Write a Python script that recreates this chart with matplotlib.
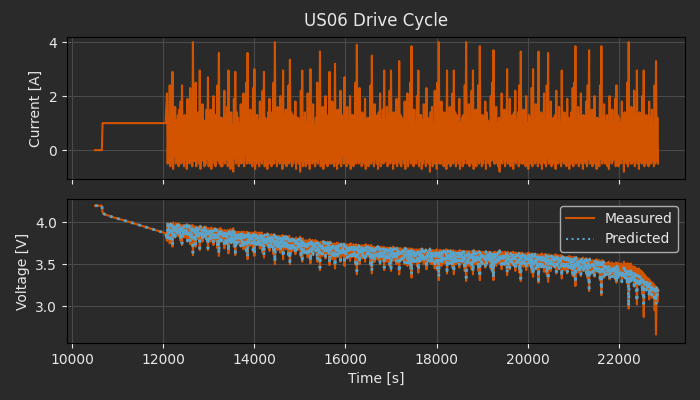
import numpy as np
import matplotlib
matplotlib.use('Agg')
import matplotlib.pyplot as plt

# -- Colours / style --
BG = '#2a2a2a'
FG = '#e8e8e8'
GRID = '#4a4a4a'
C_MEAS = '#d35400'
C_PRED = '#5ba3c8'

# -- Data: constant-current pre-phase --
time_pre = [10500, 10650, 10665, 10700, 10850, 11350, 11700, 12000, 12050]
current_pre = [0.0, 0.0, 1.0, 1.0, 1.0, 1.0, 1.0, 1.0, 1.0]
voltage_pre = [4.20, 4.20, 4.12, 4.10, 4.07, 3.99, 3.93, 3.88, 3.87]

# -- Data: US06 drive cycles, sampled every 15 s from 12080 s (one row per 600 s cycle) --
t_start, t_step = 12080, 15
current_cycles = [
    [2.1, -0.5, 1.2, -0.3, 2.4, -0.6, 1.0, -0.4, 2.9, -0.7, 1.4, -0.2, 1.6, -0.5, 1.1, -0.4, 1.3, -0.6, 1.5, -0.3,
     1.8, -0.5, 2.4, -0.4, 1.2, -0.6, 1.3, -0.3, 1.0, -0.7, 1.9, -0.4, 1.4, -0.5, 2.3, -0.2, 1.1, -0.6, 4.0, -0.4],
    [1.3, -0.4, 2.5, -0.6, 1.0, -0.3, 1.4, -0.5, 2.95, -0.7, 1.2, -0.4, 1.7, -0.2, 0.9, -0.6, 1.1, -0.5, 1.5, -0.3,
     2.7, -0.6, 1.2, -0.4, 1.5, -0.7, 1.0, -0.3, 2.0, -0.5, 1.3, -0.6, 1.3, -0.4, 2.4, -0.2, 3.6, -0.5, 1.2, -0.6],
    [1.2, -0.6, 1.0, -0.4, 2.2, -0.5, 1.3, -0.3, 1.6, -0.6, 2.95, -0.4, 1.1, -0.7, 1.4, -0.5, 0.9, -0.8, 1.9, -0.3,
     2.9, -0.5, 1.4, -0.4, 1.2, -0.6, 1.0, -0.3, 1.7, -0.5, 1.2, -0.4, 2.1, -0.6, 1.3, -0.2, 2.5, -0.5, 3.6, -0.4],
    [1.2, -0.5, 1.5, -0.3, 1.0, -0.6, 2.3, -0.4, 3.0, -0.7, 1.3, -0.5, 1.3, -0.2, 1.1, -0.6, 1.8, -0.4, 0.9, -0.5,
     2.2, -0.3, 2.9, -0.6, 1.2, -0.4, 1.1, -0.7, 1.4, -0.5, 1.9, -0.3, 1.0, -0.6, 1.4, -0.4, 2.5, -0.5, 4.0, -0.3],
    [1.1, -0.6, 1.6, -0.4, 1.3, -0.5, 2.0, -0.3, 1.0, -0.7, 2.95, -0.5, 1.2, -0.4, 1.5, -0.6, 0.9, -0.3, 2.4, -0.5,
     3.35, -0.4, 1.4, -0.6, 1.3, -0.5, 1.0, -0.3, 1.8, -0.7, 1.2, -0.4, 1.2, -0.5, 1.1, -0.8, 2.2, -0.4, 2.95, -0.6],
    [1.2, -0.4, 1.4, -0.6, 1.0, -0.3, 2.1, -0.5, 1.3, -0.7, 3.0, -0.4, 1.1, -0.5, 1.7, -0.2, 0.9, -0.6, 1.2, -0.4,
     2.5, -0.5, 1.3, -0.3, 3.65, -0.6, 1.0, -0.4, 1.6, -0.7, 1.2, -0.5, 2.0, -0.3, 1.1, -0.6, 1.3, -0.4, 2.9, -0.5],
    [1.0, -0.5, 1.8, -0.3, 1.2, -0.6, 3.2, -0.4, 1.4, -0.7, 1.5, -0.5, 0.9, -0.4, 2.2, -0.6, 1.3, -0.2, 1.1, -0.5,
     2.7, -0.4, 1.1, -0.6, 1.6, -0.3, 1.0, -0.5, 2.0, -0.7, 1.3, -0.4, 1.3, -0.6, 1.2, -0.3, 2.5, -0.5, 3.9, -0.4],
    [1.2, -0.5, 2.3, -0.4, 1.0, -0.6, 1.4, -0.3, 1.3, -0.5, 1.9, -0.7, 1.1, -0.4, 1.2, -0.6, 0.9, -0.3, 2.4, -0.5,
     3.5, -0.4, 1.2, -0.6, 1.7, -0.3, 1.0, -0.5, 1.3, -0.7, 1.4, -0.4, 2.1, -0.6, 1.1, -0.2, 1.5, -0.5, 2.95, -0.4],
    [1.1, -0.4, 1.6, -0.6, 1.3, -0.3, 2.2, -0.5, 2.95, -0.4, 1.0, -0.7, 1.4, -0.5, 1.2, -0.3, 1.9, -0.6, 0.9, -0.4,
     3.3, -0.5, 1.3, -0.6, 1.2, -0.3, 1.1, -0.5, 1.8, -0.7, 1.0, -0.4, 2.1, -0.6, 1.4, -0.3, 2.5, -0.5, 3.85, -0.4],
    [1.2, -0.6, 1.5, -0.4, 1.0, -0.5, 2.0, -0.3, 2.95, -0.6, 1.3, -0.4, 1.3, -0.7, 1.1, -0.5, 1.7, -0.3, 0.9, -0.6,
     2.3, -0.4, 1.2, -0.5, 1.1, -0.8, 1.4, -0.3, 1.6, -0.6, 1.0, -0.4, 2.2, -0.5, 1.2, -0.7, 2.5, -0.4, 4.0, -0.5],
    [1.1, -0.5, 1.8, -0.3, 1.3, -0.6, 1.4, -0.4, 1.0, -0.7, 2.95, -0.5, 1.2, -0.4, 1.6, -0.6, 0.9, -0.3, 2.1, -0.5,
     2.95, -0.4, 1.4, -0.6, 1.3, -0.3, 1.1, -0.5, 1.9, -0.7, 1.0, -0.4, 1.2, -0.6, 1.3, -0.5, 2.4, -0.3, 4.0, -0.5],
    [1.2, -0.4, 1.7, -0.6, 1.0, -0.3, 2.2, -0.5, 2.95, -0.7, 1.3, -0.4, 1.5, -0.6, 1.1, -0.3, 2.4, -0.5, 3.85, -0.4,
     1.2, -0.6, 1.3, -0.5, 0.9, -0.3, 1.8, -0.7, 1.4, -0.4, 1.1, -0.5, 1.0, -0.6, 2.0, -0.4, 2.5, -0.3, 3.7, -0.5],
    [1.3, -0.5, 1.6, -0.3, 1.0, -0.6, 1.2, -0.8, 1.1, -0.4, 2.1, -0.5, 0.9, -0.3, 1.5, -0.6, 1.2, -0.4, 3.0, -0.5,
     1.3, -0.3, 1.9, -0.6, 1.0, -0.5, 1.3, -0.7, 1.4, -0.4, 2.2, -0.5, 1.1, -0.3, 1.4, -0.6, 2.4, -0.4, 3.65, -0.5],
    [1.1, -0.5, 1.5, -0.3, 1.3, -0.6, 2.0, -0.4, 1.0, -0.7, 1.3, -0.5, 1.2, -0.4, 2.3, -0.6, 3.0, -0.3, 0.9, -0.5,
     1.7, -0.4, 1.2, -0.6, 3.65, -0.3, 1.1, -0.5, 1.4, -0.7, 1.3, -0.4, 2.1, -0.5, 1.0, -0.6, 2.4, -0.3, 3.6, -0.5],
    [1.2, -0.4, 1.8, -0.6, 1.0, -0.3, 1.2, -0.5, 1.3, -0.7, 2.2, -0.4, 1.1, -0.5, 1.6, -0.3, 0.9, -0.6, 2.95, -0.4,
     1.3, -0.5, 1.4, -0.3, 1.0, -0.6, 1.9, -0.4, 1.2, -0.7, 1.1, -0.5, 1.4, -0.3, 2.3, -0.6, 2.5, -0.4, 3.85, -0.5],
    [1.0, -0.4, 1.6, -0.6, 1.3, -0.3, 2.1, -0.5, 1.1, -0.7, 1.3, -0.4, 1.2, -0.5, 1.8, -0.6, 2.4, -0.3, 3.7, -0.5,
     1.0, -0.4, 1.5, -0.6, 1.3, -0.3, 2.0, -0.5, 0.9, -0.7, 1.2, -0.4, 1.1, -0.6, 2.4, -0.3, 3.85, -0.5, 1.2, -0.4],
    [1.7, -0.5, 1.1, -0.4, 1.3, -0.6, 1.0, -0.7, 2.0, -0.3, 1.2, -0.5, 1.5, -0.4, 0.9, -0.3, 1.9, -0.6, 2.4, -0.5,
     1.3, -0.6, 1.2, -0.4, 1.0, -0.5, 1.8, -0.3, 1.1, -0.8, 1.4, -0.4, 1.2, -0.5, 2.5, -0.6, 4.0, -0.4, 1.3, -0.5],
    [1.6, -0.5, 1.1, -0.4, 2.2, -0.6, 1.3, -0.3, 2.95, -0.5, 1.0, -0.7, 1.4, -0.4, 1.2, -0.5, 2.0, -0.3, 2.95, -0.6,
     1.1, -0.4, 1.3, -0.5, 1.0, -0.6, 1.8, -0.3, 1.2, -0.5, 1.5, -0.4, 0.9, -0.6, 2.4, -0.5, 3.3, -0.4, 1.2, -0.5],
]
voltage_meas_cycles = [
    [3.78, 3.99, 3.85, 3.97, 3.75, 3.99, 3.87, 3.98, 3.71, 4.00, 3.83, 3.96, 3.82, 3.99, 3.86, 3.98, 3.84, 3.99, 3.83, 3.97,
     3.78, 3.97, 3.73, 3.96, 3.83, 3.97, 3.82, 3.95, 3.85, 3.98, 3.77, 3.96, 3.81, 3.97, 3.74, 3.94, 3.84, 3.97, 3.61, 3.96],
    [3.80, 3.94, 3.71, 3.95, 3.83, 3.93, 3.79, 3.95, 3.67, 3.96, 3.81, 3.94, 3.77, 3.92, 3.83, 3.95, 3.82, 3.95, 3.79, 3.93,
     3.67, 3.93, 3.79, 3.92, 3.77, 3.94, 3.81, 3.91, 3.73, 3.93, 3.78, 3.93, 3.78, 3.92, 3.69, 3.90, 3.60, 3.93, 3.79, 3.93],
    [3.77, 3.91, 3.79, 3.90, 3.69, 3.91, 3.76, 3.89, 3.74, 3.91, 3.63, 3.90, 3.78, 3.92, 3.75, 3.91, 3.79, 3.93, 3.71, 3.89,
     3.61, 3.89, 3.73, 3.88, 3.75, 3.89, 3.77, 3.87, 3.71, 3.89, 3.75, 3.88, 3.68, 3.89, 3.74, 3.86, 3.65, 3.89, 3.56, 3.88],
    [3.74, 3.88, 3.72, 3.86, 3.76, 3.88, 3.65, 3.87, 3.60, 3.89, 3.73, 3.88, 3.73, 3.85, 3.75, 3.88, 3.69, 3.87, 3.76, 3.88,
     3.64, 3.84, 3.58, 3.86, 3.72, 3.85, 3.73, 3.87, 3.70, 3.86, 3.66, 3.84, 3.74, 3.86, 3.70, 3.85, 3.62, 3.86, 3.50, 3.84],
    [3.71, 3.84, 3.67, 3.83, 3.69, 3.84, 3.64, 3.82, 3.72, 3.85, 3.56, 3.84, 3.70, 3.83, 3.68, 3.84, 3.72, 3.82, 3.60, 3.84,
     3.50, 3.80, 3.65, 3.81, 3.66, 3.81, 3.69, 3.79, 3.62, 3.82, 3.67, 3.80, 3.67, 3.81, 3.68, 3.83, 3.59, 3.80, 3.53, 3.81],
    [3.65, 3.78, 3.63, 3.79, 3.67, 3.77, 3.58, 3.79, 3.64, 3.80, 3.51, 3.78, 3.66, 3.79, 3.61, 3.76, 3.67, 3.79, 3.65, 3.78,
     3.53, 3.77, 3.62, 3.75, 3.43, 3.77, 3.65, 3.76, 3.60, 3.78, 3.63, 3.77, 3.57, 3.75, 3.64, 3.77, 3.62, 3.76, 3.49, 3.77],
    [3.63, 3.75, 3.56, 3.73, 3.61, 3.75, 3.45, 3.74, 3.59, 3.76, 3.59, 3.75, 3.63, 3.74, 3.53, 3.75, 3.60, 3.72, 3.62, 3.75,
     3.48, 3.73, 3.61, 3.74, 3.57, 3.72, 3.62, 3.74, 3.54, 3.75, 3.59, 3.73, 3.59, 3.74, 3.60, 3.72, 3.50, 3.74, 3.38, 3.73],
    [3.59, 3.73, 3.50, 3.72, 3.61, 3.73, 3.57, 3.71, 3.58, 3.73, 3.53, 3.74, 3.60, 3.72, 3.59, 3.73, 3.61, 3.71, 3.49, 3.73,
     3.39, 3.70, 3.57, 3.71, 3.53, 3.69, 3.59, 3.71, 3.56, 3.72, 3.55, 3.70, 3.50, 3.71, 3.58, 3.68, 3.55, 3.71, 3.43, 3.70],
    [3.57, 3.69, 3.53, 3.70, 3.55, 3.68, 3.48, 3.70, 3.42, 3.69, 3.58, 3.71, 3.54, 3.70, 3.56, 3.68, 3.50, 3.70, 3.58, 3.69,
     3.38, 3.69, 3.54, 3.69, 3.55, 3.67, 3.56, 3.69, 3.50, 3.70, 3.57, 3.68, 3.48, 3.69, 3.53, 3.67, 3.45, 3.69, 3.34, 3.68],
    [3.54, 3.68, 3.52, 3.67, 3.56, 3.68, 3.48, 3.66, 3.40, 3.68, 3.53, 3.67, 3.53, 3.69, 3.55, 3.68, 3.50, 3.66, 3.56, 3.68,
     3.44, 3.66, 3.53, 3.67, 3.54, 3.69, 3.51, 3.65, 3.50, 3.67, 3.55, 3.66, 3.45, 3.67, 3.53, 3.68, 3.43, 3.66, 3.31, 3.67],
    [3.54, 3.67, 3.48, 3.65, 3.52, 3.67, 3.51, 3.66, 3.55, 3.68, 3.39, 3.67, 3.53, 3.66, 3.50, 3.67, 3.55, 3.65, 3.46, 3.67,
     3.38, 3.65, 3.50, 3.66, 3.51, 3.64, 3.53, 3.66, 3.46, 3.67, 3.54, 3.65, 3.52, 3.66, 3.51, 3.66, 3.42, 3.64, 3.30, 3.66],
    [3.52, 3.65, 3.48, 3.66, 3.54, 3.64, 3.44, 3.66, 3.38, 3.67, 3.51, 3.65, 3.50, 3.66, 3.53, 3.64, 3.42, 3.66, 3.31, 3.65,
     3.51, 3.65, 3.50, 3.65, 3.53, 3.63, 3.46, 3.66, 3.49, 3.64, 3.52, 3.65, 3.53, 3.65, 3.45, 3.64, 3.41, 3.63, 3.31, 3.65],
    [3.50, 3.65, 3.48, 3.63, 3.53, 3.65, 3.51, 3.67, 3.52, 3.64, 3.44, 3.65, 3.53, 3.63, 3.49, 3.65, 3.51, 3.64, 3.37, 3.65,
     3.49, 3.62, 3.44, 3.64, 3.52, 3.64, 3.49, 3.65, 3.48, 3.63, 3.42, 3.64, 3.51, 3.62, 3.48, 3.64, 3.40, 3.63, 3.30, 3.64],
    [3.50, 3.63, 3.47, 3.61, 3.48, 3.63, 3.43, 3.62, 3.51, 3.64, 3.48, 3.63, 3.49, 3.62, 3.40, 3.63, 3.35, 3.61, 3.51, 3.63,
     3.44, 3.61, 3.48, 3.62, 3.28, 3.60, 3.49, 3.62, 3.46, 3.63, 3.47, 3.61, 3.41, 3.62, 3.50, 3.62, 3.38, 3.60, 3.29, 3.62],
    [3.47, 3.60, 3.42, 3.61, 3.49, 3.59, 3.47, 3.61, 3.46, 3.62, 3.39, 3.60, 3.48, 3.61, 3.44, 3.59, 3.49, 3.61, 3.33, 3.60,
     3.44, 3.59, 3.43, 3.57, 3.47, 3.59, 3.39, 3.58, 3.45, 3.60, 3.46, 3.59, 3.43, 3.57, 3.36, 3.59, 3.35, 3.58, 3.24, 3.59],
    [3.45, 3.56, 3.40, 3.57, 3.42, 3.55, 3.36, 3.57, 3.44, 3.58, 3.42, 3.56, 3.43, 3.57, 3.38, 3.57, 3.33, 3.55, 3.18, 3.57,
     3.43, 3.54, 3.39, 3.55, 3.40, 3.53, 3.35, 3.55, 3.43, 3.56, 3.41, 3.54, 3.42, 3.55, 3.31, 3.53, 3.13, 3.55, 3.41, 3.54],
    [3.34, 3.52, 3.39, 3.51, 3.37, 3.52, 3.40, 3.53, 3.32, 3.50, 3.38, 3.52, 3.36, 3.51, 3.40, 3.50, 3.32, 3.52, 3.28, 3.52,
     3.36, 3.51, 3.37, 3.50, 3.39, 3.51, 3.32, 3.49, 3.38, 3.53, 3.35, 3.50, 3.37, 3.51, 3.27, 3.51, 2.97, 3.50, 3.36, 3.51],
    [3.33, 3.48, 3.36, 3.47, 3.24, 3.47, 3.33, 3.45, 3.02, 3.45, 3.33, 3.45, 3.29, 3.43, 3.28, 3.42, 3.14, 3.40, 2.87, 3.38,
     3.24, 3.36, 3.20, 3.34, 3.21, 3.33, 3.08, 3.31, 3.14, 3.29, 3.10, 3.28, 3.14, 3.26, 2.95, 3.24, 2.66, 3.22, 3.05, 3.20],
]
voltage_pred_cycles = [
    [3.79, 3.98, 3.86, 3.96, 3.77, 3.98, 3.88, 3.97, 3.73, 3.98, 3.84, 3.95, 3.83, 3.98, 3.87, 3.97, 3.85, 3.98, 3.84, 3.96,
     3.79, 3.96, 3.75, 3.95, 3.84, 3.96, 3.83, 3.94, 3.86, 3.97, 3.78, 3.95, 3.82, 3.96, 3.76, 3.93, 3.85, 3.96, 3.64, 3.95],
    [3.81, 3.93, 3.73, 3.94, 3.84, 3.92, 3.80, 3.94, 3.69, 3.95, 3.82, 3.93, 3.78, 3.91, 3.84, 3.94, 3.83, 3.94, 3.80, 3.92,
     3.69, 3.92, 3.80, 3.91, 3.78, 3.93, 3.82, 3.90, 3.75, 3.92, 3.79, 3.92, 3.79, 3.91, 3.71, 3.89, 3.63, 3.92, 3.80, 3.92],
    [3.78, 3.90, 3.80, 3.89, 3.71, 3.90, 3.77, 3.88, 3.75, 3.90, 3.66, 3.89, 3.79, 3.91, 3.76, 3.90, 3.80, 3.92, 3.73, 3.88,
     3.64, 3.88, 3.74, 3.87, 3.76, 3.88, 3.78, 3.86, 3.72, 3.88, 3.76, 3.87, 3.70, 3.88, 3.75, 3.85, 3.67, 3.88, 3.59, 3.87],
    [3.75, 3.87, 3.73, 3.85, 3.77, 3.87, 3.67, 3.86, 3.63, 3.88, 3.74, 3.87, 3.74, 3.84, 3.76, 3.87, 3.70, 3.86, 3.77, 3.87,
     3.66, 3.83, 3.61, 3.85, 3.73, 3.84, 3.74, 3.86, 3.71, 3.85, 3.67, 3.83, 3.75, 3.85, 3.71, 3.84, 3.64, 3.85, 3.53, 3.83],
    [3.72, 3.83, 3.68, 3.82, 3.70, 3.83, 3.66, 3.81, 3.73, 3.84, 3.59, 3.83, 3.71, 3.82, 3.69, 3.83, 3.73, 3.81, 3.62, 3.83,
     3.53, 3.79, 3.66, 3.80, 3.67, 3.80, 3.70, 3.78, 3.63, 3.81, 3.68, 3.79, 3.68, 3.80, 3.69, 3.82, 3.61, 3.79, 3.56, 3.80],
    [3.66, 3.77, 3.64, 3.78, 3.68, 3.76, 3.60, 3.78, 3.65, 3.79, 3.54, 3.77, 3.67, 3.78, 3.62, 3.75, 3.68, 3.78, 3.66, 3.77,
     3.55, 3.76, 3.63, 3.74, 3.46, 3.76, 3.66, 3.75, 3.61, 3.77, 3.64, 3.76, 3.59, 3.74, 3.65, 3.76, 3.63, 3.75, 3.52, 3.76],
    [3.64, 3.74, 3.58, 3.72, 3.62, 3.74, 3.48, 3.73, 3.60, 3.75, 3.60, 3.74, 3.64, 3.73, 3.55, 3.74, 3.61, 3.71, 3.63, 3.74,
     3.51, 3.72, 3.62, 3.73, 3.58, 3.71, 3.63, 3.73, 3.56, 3.74, 3.60, 3.72, 3.60, 3.73, 3.61, 3.71, 3.52, 3.73, 3.42, 3.72],
    [3.60, 3.72, 3.52, 3.71, 3.62, 3.72, 3.58, 3.70, 3.59, 3.72, 3.54, 3.73, 3.61, 3.71, 3.60, 3.72, 3.62, 3.70, 3.51, 3.72,
     3.42, 3.69, 3.58, 3.70, 3.54, 3.68, 3.60, 3.70, 3.57, 3.71, 3.56, 3.69, 3.52, 3.70, 3.59, 3.67, 3.56, 3.70, 3.46, 3.69],
    [3.58, 3.68, 3.54, 3.69, 3.56, 3.67, 3.50, 3.69, 3.45, 3.68, 3.59, 3.70, 3.55, 3.69, 3.57, 3.67, 3.52, 3.69, 3.59, 3.68,
     3.41, 3.68, 3.55, 3.68, 3.56, 3.66, 3.57, 3.68, 3.52, 3.69, 3.58, 3.67, 3.50, 3.68, 3.54, 3.66, 3.47, 3.68, 3.38, 3.67],
    [3.55, 3.67, 3.53, 3.66, 3.57, 3.67, 3.50, 3.65, 3.43, 3.67, 3.54, 3.66, 3.54, 3.68, 3.56, 3.67, 3.52, 3.65, 3.57, 3.67,
     3.46, 3.65, 3.54, 3.66, 3.55, 3.68, 3.52, 3.64, 3.51, 3.66, 3.56, 3.65, 3.47, 3.66, 3.54, 3.67, 3.45, 3.65, 3.35, 3.66],
    [3.55, 3.66, 3.50, 3.64, 3.53, 3.66, 3.52, 3.65, 3.56, 3.67, 3.42, 3.66, 3.54, 3.65, 3.51, 3.66, 3.56, 3.64, 3.48, 3.66,
     3.41, 3.64, 3.51, 3.65, 3.52, 3.63, 3.54, 3.65, 3.48, 3.66, 3.55, 3.64, 3.53, 3.65, 3.52, 3.65, 3.44, 3.63, 3.34, 3.65],
    [3.53, 3.64, 3.50, 3.65, 3.55, 3.63, 3.46, 3.65, 3.41, 3.66, 3.52, 3.64, 3.51, 3.65, 3.54, 3.63, 3.44, 3.65, 3.35, 3.64,
     3.52, 3.64, 3.51, 3.64, 3.54, 3.62, 3.48, 3.65, 3.50, 3.63, 3.53, 3.64, 3.54, 3.64, 3.47, 3.63, 3.43, 3.62, 3.34, 3.64],
    [3.51, 3.64, 3.49, 3.62, 3.54, 3.64, 3.52, 3.66, 3.53, 3.63, 3.46, 3.64, 3.54, 3.62, 3.50, 3.64, 3.52, 3.63, 3.40, 3.64,
     3.50, 3.61, 3.46, 3.63, 3.53, 3.63, 3.50, 3.64, 3.49, 3.62, 3.44, 3.63, 3.52, 3.61, 3.49, 3.63, 3.42, 3.62, 3.33, 3.63],
    [3.51, 3.62, 3.48, 3.60, 3.49, 3.62, 3.45, 3.61, 3.52, 3.63, 3.49, 3.62, 3.50, 3.61, 3.42, 3.62, 3.38, 3.60, 3.52, 3.62,
     3.45, 3.60, 3.49, 3.61, 3.31, 3.59, 3.50, 3.61, 3.47, 3.62, 3.48, 3.60, 3.43, 3.61, 3.51, 3.61, 3.40, 3.59, 3.32, 3.61],
    [3.48, 3.59, 3.44, 3.60, 3.50, 3.58, 3.48, 3.60, 3.47, 3.61, 3.41, 3.59, 3.49, 3.60, 3.45, 3.58, 3.50, 3.60, 3.36, 3.59,
     3.45, 3.58, 3.44, 3.56, 3.48, 3.58, 3.41, 3.57, 3.46, 3.59, 3.47, 3.58, 3.44, 3.56, 3.38, 3.58, 3.37, 3.57, 3.28, 3.58],
    [3.46, 3.55, 3.42, 3.56, 3.43, 3.54, 3.38, 3.56, 3.45, 3.57, 3.43, 3.55, 3.44, 3.56, 3.40, 3.56, 3.35, 3.54, 3.21, 3.56,
     3.44, 3.53, 3.40, 3.54, 3.41, 3.52, 3.37, 3.54, 3.44, 3.55, 3.42, 3.53, 3.43, 3.54, 3.33, 3.52, 3.16, 3.54, 3.42, 3.53],
    [3.34, 3.48, 3.38, 3.47, 3.36, 3.48, 3.39, 3.49, 3.32, 3.46, 3.37, 3.48, 3.35, 3.47, 3.39, 3.46, 3.32, 3.48, 3.29, 3.48,
     3.32, 3.44, 3.33, 3.43, 3.35, 3.44, 3.29, 3.42, 3.34, 3.46, 3.31, 3.43, 3.33, 3.44, 3.25, 3.44, 3.00, 3.43, 3.32, 3.44],
    [3.30, 3.40, 3.33, 3.39, 3.24, 3.39, 3.30, 3.38, 3.06, 3.37, 3.29, 3.37, 3.26, 3.36, 3.25, 3.35, 3.17, 3.34, 3.03, 3.32,
     3.22, 3.31, 3.19, 3.30, 3.20, 3.29, 3.12, 3.27, 3.15, 3.26, 3.13, 3.25, 3.16, 3.24, 3.06, 3.23, 3.02, 3.22, 3.12, 3.20],
]

# -- Assemble series --
current_dyn = np.concatenate(current_cycles)
v_meas_dyn = np.concatenate(voltage_meas_cycles)
v_pred_dyn = np.concatenate(voltage_pred_cycles)
time_dyn = t_start + t_step * np.arange(len(current_dyn))

time = np.concatenate([time_pre, time_dyn])
current = np.concatenate([current_pre, current_dyn])
v_meas = np.concatenate([voltage_pre, v_meas_dyn])
v_pred = np.concatenate([voltage_pre, v_pred_dyn])

plt.rcParams.update({
    'font.family': 'DejaVu Sans',
    'font.size': 10,
    'text.color': FG,
    'axes.labelcolor': FG,
    'xtick.color': FG,
    'ytick.color': FG,
    'axes.edgecolor': 'black',
})

fig = plt.figure(figsize=(7, 4), dpi=100, facecolor=BG)
ax1 = fig.add_axes([0.0957, 0.5525, 0.8829, 0.355], facecolor=BG)
ax2 = fig.add_axes([0.0957, 0.1425, 0.8829, 0.36], facecolor=BG, sharex=ax1)

ax1.plot(time, current, color=C_MEAS, lw=1.5)
ax1.set_ylabel('Current [A]')
ax1.set_title('US06 Drive Cycle', fontsize=12, color=FG, pad=8)
ax1.set_ylim(-1.07, 4.19)
ax1.set_yticks([0, 2, 4])
ax1.tick_params(labelbottom=False)

ax2.plot(time, v_meas, color=C_MEAS, lw=1.5, label='Measured')
ax2.plot(time, v_pred, color=C_PRED, lw=2.0, linestyle=':', label='Predicted')
ax2.set_xlabel('Time [s]')
ax2.set_ylabel('Voltage [V]')
ax2.set_ylim(2.56, 4.28)
ax2.set_yticks([3.0, 3.5, 4.0])
ax2.set_xlim(9884, 23457)
ax2.set_xticks([10000, 12000, 14000, 16000, 18000, 20000, 22000])

for ax in (ax1, ax2):
    ax.grid(True, color=GRID, lw=0.8)
    ax.set_axisbelow(True)
    for s in ax.spines.values():
        s.set_color('black')

leg = ax2.legend(loc='upper right', facecolor=BG, edgecolor='#aaaaaa', framealpha=1.0)
for txt in leg.get_texts():
    txt.set_color(FG)
for line in leg.get_lines():
    line.set_linewidth(1.5)

fig.savefig('out.png', dpi=100, facecolor=BG)
plt.close(fig)
